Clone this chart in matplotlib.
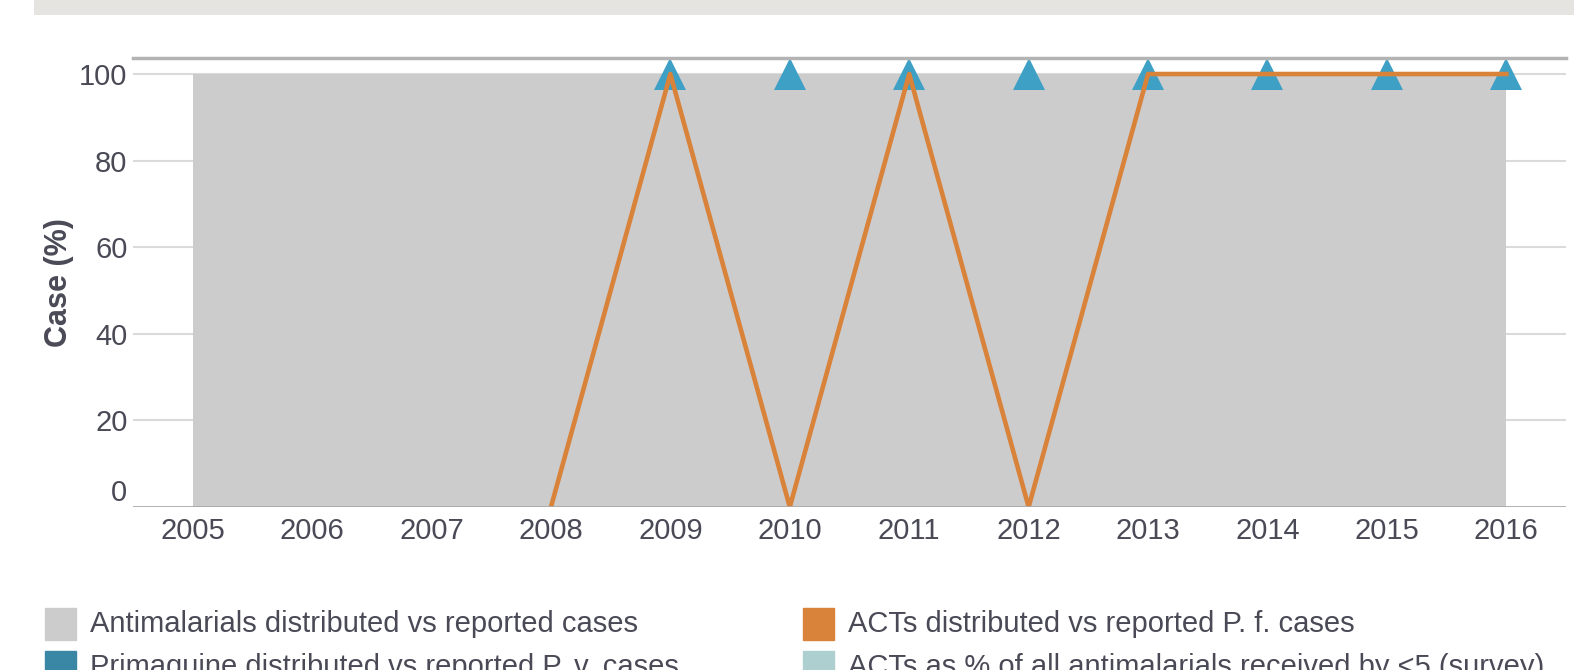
import numpy as np
import matplotlib.pyplot as plt
import matplotlib.transforms as mtransforms
from matplotlib.patches import Rectangle

plt.rcParams['font.family'] = ['Liberation Sans', 'DejaVu Sans']

years        = [2005, 2006, 2007, 2008, 2009, 2010, 2011, 2012, 2013, 2014, 2015, 2016]
antimalarial = [100, 100, 100, 100, 100, 100, 100, 100, 100, 100, 100, 100]
act_pf       = [np.nan, np.nan, np.nan, 0, 100, 0, 100, 0, 100, 100, 100, 100]
primaquine   = [np.nan, np.nan, np.nan, np.nan, 100, 100, 100, 100, 100, 100, 100, 100]
yticks       = [0, 20, 40, 60, 80, 100]

legend_labels = ['Antimalarials distributed vs reported cases',
                 'ACTs distributed vs reported P. f. cases',
                 'Primaquine distributed vs reported P. v. cases',
                 'ACTs as % of all antimalarials received by <5 (survey)']
legend_colors = ['#cccccc', '#d9823a', '#3a87a5', '#aecfd0']

txt = '#4a4a57'
fs = 21

fig = plt.figure(figsize=(15.74, 6.70), dpi=100)

# grey band at top
band = fig.add_axes([34/1574, 655/670, 1 - 34/1574, 15/670])
band.set_facecolor('#e5e4e0')
band.set_xticks([]); band.set_yticks([])
for s in band.spines.values():
    s.set_visible(False)

ax = fig.add_axes([133/1574, 163/670, (1566-133)/1574, (507-58)/670])
ax.set_xlim(2004.5, 2016.5)
ax.set_ylim(0, 103.7)

for y in yticks[1:]:
    ax.axhline(y, color='#dadada', lw=1.5, zorder=0)
ax.axhline(0, color='#aaaaaa', lw=2, zorder=4)
ax.axhline(103.7, color='#b3b3b3', lw=2.5, zorder=4, clip_on=False)

ax.fill_between(years, 0, antimalarial, color='#cccccc', lw=0, zorder=1)
ax.plot(years, primaquine, linestyle='none', marker='^', markersize=22.5,
        color='#3fa0c6', markeredgewidth=0, zorder=2)
ax.plot(years, act_pf, color='#d9823a', lw=3.3, zorder=3)

for s in ax.spines.values():
    s.set_visible(False)
ax.set_xticks(years)
ax.set_xticklabels([str(y) for y in years])
ax.set_yticks(yticks)
ax.tick_params(length=0, labelsize=fs, colors=txt, pad=4)
ax.tick_params(axis='x', pad=7)
# the 0 label sits a bit above the baseline
ylabs = ax.get_yticklabels()
ylabs[0].set_transform(ylabs[0].get_transform() + mtransforms.ScaledTranslation(0, 0.17, fig.dpi_scale_trans))
ax.set_ylabel('Case (%)', fontsize=22, fontweight='bold', color=txt, labelpad=4)

# legend
pos = [(45, 608), (803, 608), (45, 651), (803, 651)]
for (x, y), lab, col in zip(pos, legend_labels, legend_colors):
    fig.patches.append(Rectangle((x/1574, 1 - (y+32)/670), 31/1574, 32/670,
                                 transform=fig.transFigure, color=col))
    fig.text((x+45)/1574, 1 - (y+16)/670, lab, fontsize=fs, color=txt,
             va='center', ha='left')

fig.savefig('out.png', dpi=100)
